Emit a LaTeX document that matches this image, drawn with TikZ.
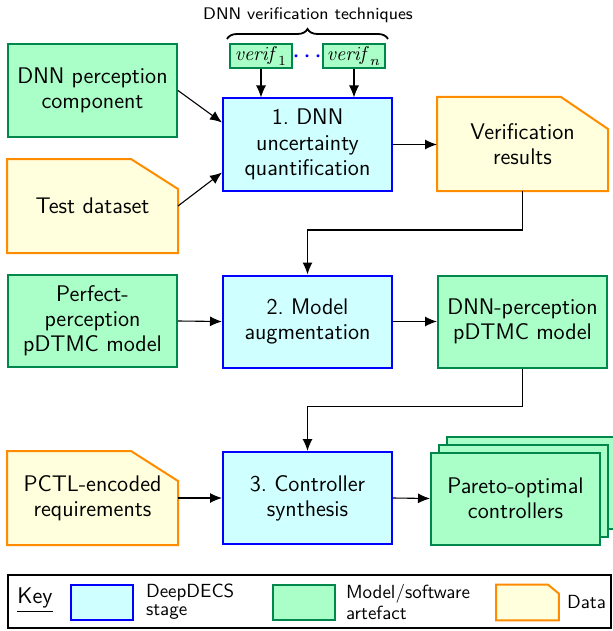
\documentclass[tikz,border=0pt]{standalone}
\usetikzlibrary{arrows.meta,decorations.pathreplacing,shadows,backgrounds}

\definecolor{stageline}{RGB}{0,0,255}
\definecolor{stagefill}{RGB}{208,255,255}
\definecolor{artline}{RGB}{0,135,75}
\definecolor{artfill}{RGB}{170,255,200}
\definecolor{dataline}{RGB}{255,140,0}
\definecolor{datafill}{RGB}{255,255,221}

% data shape with a cut top-right corner, drawn behind a node
\newcommand{\datacorner}[3]{%
  \draw[draw=dataline, fill=datafill, line width=1pt]
    (#1.north west) -- ([xshift=-#2]#1.north east) -- ([yshift=-#3]#1.north east)
    -- (#1.south east) -- (#1.south west) -- cycle;}

\begin{document}
\begin{tikzpicture}[
    x=0.5pt, y=-0.5pt,
    >={Latex[length=6pt,width=5pt]},
    font=\sffamily\fontsize{11.3}{12.6}\selectfont,
    box/.style={minimum width=84.5pt, minimum height=46pt, align=center, line width=1pt, inner sep=2pt},
    stage/.style={box, draw=stageline, fill=stagefill},
    artefact/.style={box, draw=artline, fill=artfill},
    datanode/.style={box},
    verifbox/.style={draw=artline, fill=artfill, line width=1pt, minimum width=31pt, minimum height=12pt, inner sep=0.5pt, font=\fontsize{9.6}{10}\selectfont},
    keytext/.style={anchor=west, align=left, font=\sffamily\fontsize{9.5}{9}\selectfont},
    conn/.style={->, line width=0.55pt}
]
    \useasboundingbox (0,0) rectangle (612,631);

    % --- Row 1 ---
    \node[artefact] (dnn) at (92.5,90.5) {DNN perception\\component};
    \node[datanode] (test) at (92.5,206) {Test dataset};
    \node[stage] (uq) at (307.5,144.5) {1.~DNN\\uncertainty\\quantification};
    \node[datanode] (verifres) at (522.5,144) {Verification\\results};

    % verification techniques
    \node[verifbox] (verif1) at (261,56) {$\mathit{verif}_1$};
    \node[verifbox] (verifn) at (354,56) {$\mathit{verif}_n$};
    \node[text=blue, font=\fontsize{15}{15}\selectfont, inner sep=0pt] (vdots) at (307.5,57) {$\cdot\mkern-2mu\cdot\mkern-2mu\cdot$};
    \draw[decorate, decoration={brace, amplitude=5pt}, line width=0.9pt]
        ([xshift=-1pt,yshift=2pt]verif1.north west) -- ([xshift=1pt,yshift=2pt]verifn.north east);
    \node[font=\sffamily\fontsize{8.4}{10}\selectfont] (techlabel) at (308,15) {DNN verification techniques};

    % --- Row 2 ---
    \node[artefact] (perfect) at (92.5,321) {Perfect-\\perception\\pDTMC model};
    \node[stage] (aug) at (307.5,321.5) {2.~Model\\augmentation};
    \node[artefact] (dnnmodel) at (522.5,321.5) {DNN-perception\\pDTMC model};

    % --- Row 3 ---
    \node[datanode] (pctl) at (92.5,498) {PCTL-encoded\\requirements};
    \node[stage] (synth) at (307.5,498) {3.~Controller\\synthesis};
    \node[artefact, double copy shadow={shadow xshift=4pt, shadow yshift=4pt}] (pareto) at (515.5,498.5) {Pareto-optimal\\controllers};

    % --- Data shapes ---
    \begin{scope}[on background layer]
        \datacorner{test}{23.5pt}{15pt}
        \datacorner{verifres}{23.5pt}{16pt}
        \datacorner{pctl}{23.5pt}{15pt}
    \end{scope}

    % --- Connectors ---
    \draw[conn] (dnn.east) -- ([yshift=11pt]uq.west);
    \draw[conn] (test.east) -- ([yshift=-14pt]uq.west);
    \draw[conn] (verif1.south) -- (verif1 |- uq.north);
    \draw[conn] (verifn.south) -- (verifn |- uq.north);
    \draw[conn] (uq.east) -- (verifres.west |- uq.east);
    \draw[conn] (verifres.south) -- ++(0,39) -| (aug.north);
    \draw[conn] (perfect.east) -- (aug.west);
    \draw[conn] (aug.east) -- (dnnmodel.west);
    \draw[conn] (dnnmodel.south) -- ++(0,38) -| (synth.north);
    \draw[conn] (pctl.east) -- (synth.west);
    \draw[conn] (synth.east) -- (pareto.west);

    % --- Key ---
    \node[draw=black, line width=0.6pt, minimum width=301.5pt, minimum height=26.5pt] (keybox) at (309.5,601.5) {};
    \node (keylabel) at (35,600) {\underline{Key}};
    \node[draw=stageline, fill=stagefill, line width=1pt, minimum width=31pt, minimum height=17.5pt] (keystage) at (102,602.5) {};
    \node[keytext] (keystagetext) at (139,602) {DeepDECS\\stage};
    \node[draw=artline, fill=artfill, line width=1pt, minimum width=31pt, minimum height=17.5pt] (keyart) at (303.5,602.5) {};
    \node[keytext] (keyarttext) at (339,602) {Model/software\\artefact};
    \node[minimum width=31pt, minimum height=17.5pt] (keydata) at (527.5,602.5) {};
    \datacorner{keydata}{5.5pt}{4.5pt}
    \node[keytext] (keydatatext) at (560,602) {Data};
\end{tikzpicture}
\end{document}
